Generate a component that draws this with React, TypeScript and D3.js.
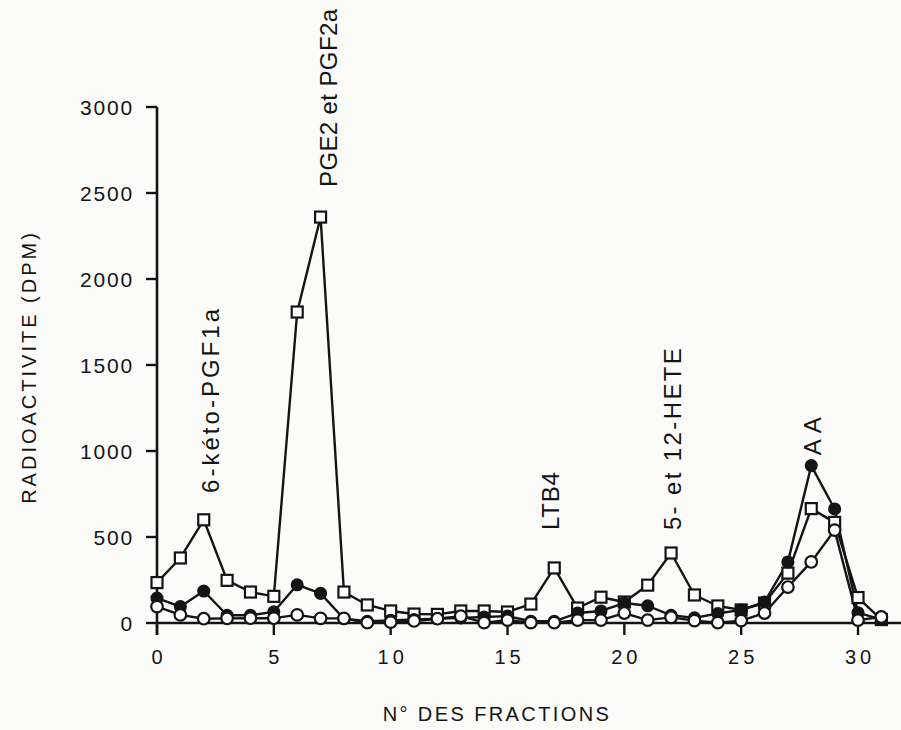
import React from "react";
import * as d3 from "d3";

const fractions: number[] = Array.from({ length: 32 }, (_, i) => i);
const seriesSquares: number[] = [235, 378, 600, 248, 180, 155, 1808, 2360, 180, 105, 70, 52, 50, 70, 70, 64, 110, 320, 87, 150, 122, 220, 407, 163, 99, 76, 116, 290, 665, 585, 148, 20];
const seriesFilled: number[] = [145, 95, 186, 45, 45, 65, 222, 172, 25, 10, 15, 20, 25, 30, 35, 40, 10, 10, 58, 70, 116, 100, 45, 30, 55, 76, 122, 355, 915, 663, 60, 20];
const seriesOpen: number[] = [95, 47, 25, 27, 28, 28, 47, 27, 27, 2, 5, 12, 25, 40, 2, 17, 2, 2, 17, 17, 58, 17, 33, 14, 2, 14, 58, 209, 355, 540, 17, 35];
const yTicks: number[] = [0, 500, 1000, 1500, 2000, 2500, 3000];
const xTicks: number[] = [0, 5, 10, 15, 20, 25, 30];
const peakLabelTexts: string[] = ["6-kéto-PGF1a", "PGE2 et PGF2a", "LTB4", "5- et 12-HETE", "A A"];
const peakLabelFractions: number[] = [2.27, 7.32, 16.82, 22.08, 28.07];
const peakLabelValues: number[] = [756, 2535, 540, 540, 975];

// layout only: rendered length of each rotated label (px)
const LABEL_LENGTHS: number[] = [184, 178, 58, 182, 38];

const W = 901;
const H = 730;
const FONT = "'Liberation Sans', Arial, Helvetica, sans-serif";

export default function App() {
  const x = d3.scaleLinear().domain([0, 30]).range([157, 858]);
  const y = d3.scaleLinear().domain([0, 3000]).range([623, 107]);
  const line = d3
    .line<number>()
    .x((_, i) => x(fractions[i]))
    .y((d) => y(d));
  const ink = "#141414";
  const sw = 2.4;
  const sq = 11;
  const r = 5.8;

  return (
    <svg
      width={W}
      height={H}
      viewBox={`0 0 ${W} ${H}`}
      style={{ position: "absolute", left: 0, top: 0, display: "block" }}
      fontFamily={FONT}
    >
      <rect x={0} y={0} width={W} height={H} fill="#fbfbf9" />

      {/* y axis */}
      <line x1={x(0)} x2={x(0)} y1={y(0) + 12} y2={y(3000)} stroke={ink} strokeWidth={2.6} />
      {yTicks.map((t) => (
        <g key={"yt" + t}>
          <line x1={x(0) - 11} x2={x(0)} y1={y(t)} y2={y(t)} stroke={ink} strokeWidth={2.4} />
          <text
            x={x(0) - 23}
            y={y(t)}
            dy="0.36em"
            textAnchor="end"
            fontSize={21}
            letterSpacing={1.8}
            fill={ink}
          >
            {t}
          </text>
        </g>
      ))}

      {/* x axis */}
      <line x1={x(0)} x2={W} y1={y(0)} y2={y(0)} stroke={ink} strokeWidth={2.6} />
      {xTicks.map((t) => (
        <g key={"xt" + t}>
          <line x1={x(t)} x2={x(t)} y1={y(0)} y2={y(0) + 12} stroke={ink} strokeWidth={2.4} />
          <text
            x={x(t) + 2}
            y={664}
            textAnchor="middle"
            fontSize={20}
            letterSpacing={4}
            fill={ink}
          >
            {t}
          </text>
        </g>
      ))}

      {/* axis titles */}
      <text
        transform={`translate(36, 367) rotate(-90)`}
        textAnchor="middle"
        fontSize={20}
        letterSpacing={3}
        fill={ink}
      >
        RADIOACTIVITE (DPM)
      </text>
      <text x={497} y={721} textAnchor="middle" fontSize={20} letterSpacing={2.4} fill={ink}>
        N° DES FRACTIONS
      </text>

      {/* lines */}
      <path d={line(seriesSquares) || ""} fill="none" stroke={ink} strokeWidth={sw} strokeLinejoin="round" />
      <path d={line(seriesFilled) || ""} fill="none" stroke={ink} strokeWidth={sw} strokeLinejoin="round" />
      <path d={line(seriesOpen) || ""} fill="none" stroke={ink} strokeWidth={sw} strokeLinejoin="round" />

      {/* markers */}
      {seriesSquares.map((v, i) => (
        <rect
          key={"s" + i}
          x={x(fractions[i]) - sq / 2}
          y={y(v) - sq / 2}
          width={sq}
          height={sq}
          fill="#ffffff"
          stroke={ink}
          strokeWidth={2.2}
        />
      ))}
      {seriesFilled.map((v, i) => (
        <circle key={"f" + i} cx={x(fractions[i])} cy={y(v)} r={r} fill={ink} stroke={ink} strokeWidth={1.5} />
      ))}
      {seriesOpen.map((v, i) => (
        <circle key={"o" + i} cx={x(fractions[i])} cy={y(v)} r={r} fill="#ffffff" stroke={ink} strokeWidth={2.2} />
      ))}

      {/* peak labels */}
      {peakLabelTexts.map((t, i) => (
        <text
          key={t}
          transform={`translate(${x(peakLabelFractions[i]) + 8.5}, ${y(peakLabelValues[i])}) rotate(-90)`}
          textAnchor="start"
          fontSize={24}
          textLength={LABEL_LENGTHS[i]}
          lengthAdjust="spacing"
          fill={ink}
        >
          {t}
        </text>
      ))}
    </svg>
  );
}
